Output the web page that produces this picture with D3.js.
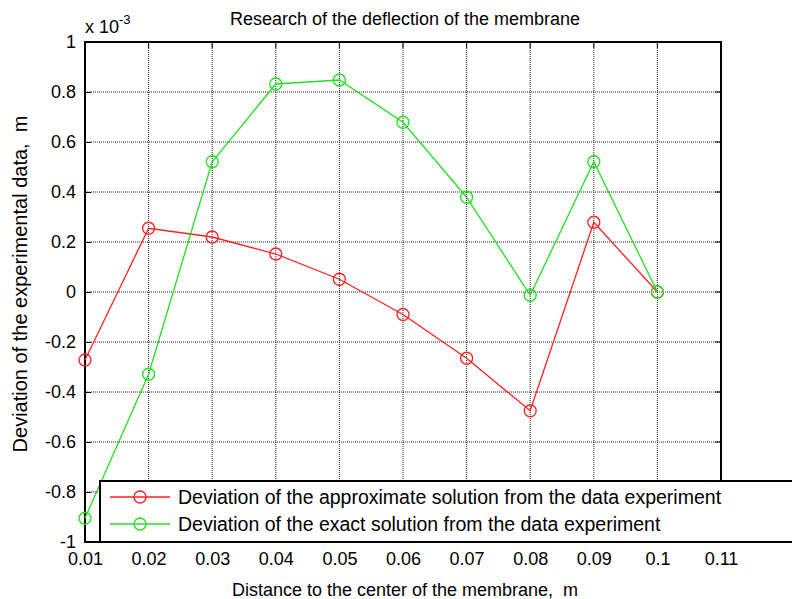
<!DOCTYPE html>
<html>
<head>
<meta charset="utf-8">
<script src="https://cdn.jsdelivr.net/npm/d3@7"></script>
<style>
body { margin: 0; background: #fff; }
text { font-family: "Liberation Sans", Arial, sans-serif; fill: #000; white-space: pre; }
</style>
</head>
<body>
<svg id="chart" width="792" height="599"></svg>
<script>
// distance to center (m)
var distance = [0.01, 0.02, 0.03, 0.04, 0.05, 0.06, 0.07, 0.08, 0.09, 0.1];
// deviations, x 10^-3 m
var approxDev = [-0.272, 0.255, 0.220, 0.152, 0.051, -0.090, -0.265, -0.475, 0.279, 0.0];
var exactDev  = [-0.905, -0.329, 0.521, 0.832, 0.848, 0.679, 0.379, -0.013, 0.521, 0.0];
var xTicks = [0.01, 0.02, 0.03, 0.04, 0.05, 0.06, 0.07, 0.08, 0.09, 0.1, 0.11];
var yTicks = [-1, -0.8, -0.6, -0.4, -0.2, 0, 0.2, 0.4, 0.6, 0.8, 1];
var seriesNames = ["Deviation of the approximate solution from the data experiment",
                   "Deviation of the exact solution from the data experiment"];
var seriesColors = ["#ff2020", "#20e020"];

var m = {left: 85, right: 721, top: 42, bottom: 542};
var svg = d3.select("#chart");

var x = d3.scaleLinear().domain([0.01, 0.11]).range([m.left, m.right]);
var y = d3.scaleLinear().domain([-1, 1]).range([m.bottom, m.top]);

// grid
var grid = svg.append("g").attr("stroke", "#222").attr("stroke-width", 1).attr("stroke-dasharray", "1,1");
grid.selectAll(".gx").data(xTicks.slice(1, -1)).enter().append("line")
  .attr("x1", d => x(d)).attr("x2", d => x(d)).attr("y1", m.top).attr("y2", m.bottom);
grid.selectAll(".gy").data(yTicks.slice(1, -1)).enter().append("line")
  .attr("y1", d => y(d)).attr("y2", d => y(d)).attr("x1", m.left).attr("x2", m.right);

// axes (ticks inward, matlab style)
var fmt = d => String(+d.toFixed(2));
var xAxis = svg.append("g").attr("transform", "translate(0," + m.bottom + ")")
  .call(d3.axisBottom(x).tickValues(xTicks).tickFormat(fmt).tickSizeInner(-6).tickSizeOuter(0).tickPadding(10));
var yAxis = svg.append("g").attr("transform", "translate(" + m.left + ",0)")
  .call(d3.axisLeft(y).tickValues(yTicks).tickFormat(fmt).tickSizeInner(-6).tickSizeOuter(0).tickPadding(9));
[xAxis, yAxis].forEach(function(g) {
  g.select(".domain").remove();
  g.selectAll(".tick line").attr("stroke", "#000");
  g.selectAll(".tick text").attr("font-size", 18).attr("font-family", "Liberation Sans, Arial, sans-serif").attr("fill", "#000");
});
// top/right ticks
svg.append("g").selectAll("line").data(xTicks).enter().append("line")
  .attr("x1", d => x(d)).attr("x2", d => x(d)).attr("y1", m.top).attr("y2", m.top + 6).attr("stroke", "#000");
svg.append("g").selectAll("line").data(yTicks).enter().append("line")
  .attr("y1", d => y(d)).attr("y2", d => y(d)).attr("x1", m.right).attr("x2", m.right - 6).attr("stroke", "#000");

svg.append("rect").attr("x", m.left).attr("y", m.top).attr("width", m.right - m.left).attr("height", m.bottom - m.top)
  .attr("fill", "none").attr("stroke", "#000").attr("stroke-width", 2);

// series
var series = [approxDev, exactDev];
var line = d3.line().x((d, i) => x(distance[i])).y(d => y(d));
series.forEach(function(vals, k) {
  svg.append("path").datum(vals).attr("d", line).attr("fill", "none")
    .attr("stroke", seriesColors[k]).attr("stroke-width", 1.3);
  svg.append("g").selectAll("circle").data(vals).enter().append("circle")
    .attr("cx", (d, i) => x(distance[i])).attr("cy", d => y(d)).attr("r", 6)
    .attr("fill", "none").attr("stroke", seriesColors[k]).attr("stroke-width", 1.3);
});

// legend
var lg = svg.append("g");
lg.append("rect").attr("x", 100).attr("y", 481).attr("width", 700).attr("height", 61)
  .attr("fill", "#fff").attr("stroke", "#000").attr("stroke-width", 2);
seriesNames.forEach(function(name, k) {
  var ly = 497 + k * 27;
  lg.append("line").attr("x1", 110).attr("x2", 170).attr("y1", ly).attr("y2", ly)
    .attr("stroke", seriesColors[k]).attr("stroke-width", 1.3);
  lg.append("circle").attr("cx", 140).attr("cy", ly).attr("r", 6).attr("fill", "none")
    .attr("stroke", seriesColors[k]).attr("stroke-width", 1.3);
  lg.append("text").attr("x", 178).attr("y", ly + 7).attr("font-size", 19.5).text(name);
});

// titles
svg.append("text").attr("x", 405).attr("y", 25).attr("text-anchor", "middle").attr("font-size", 18)
  .text("Research of the deflection of the membrane");
svg.append("text").attr("x", 405).attr("y", 596).attr("text-anchor", "middle").attr("font-size", 18)
  .text("Distance to the center of the membrane,  m");
svg.append("text").attr("transform", "translate(27,284) rotate(-90)").attr("text-anchor", "middle")
  .attr("font-size", 20).text("Deviation of the experimental data,  m");
var ex = svg.append("text").attr("x", 85).attr("y", 33).attr("font-size", 18);
ex.append("tspan").text("x 10");
ex.append("tspan").attr("dy", -9).attr("font-size", 13).text("-3");
</script>
</body>
</html>
